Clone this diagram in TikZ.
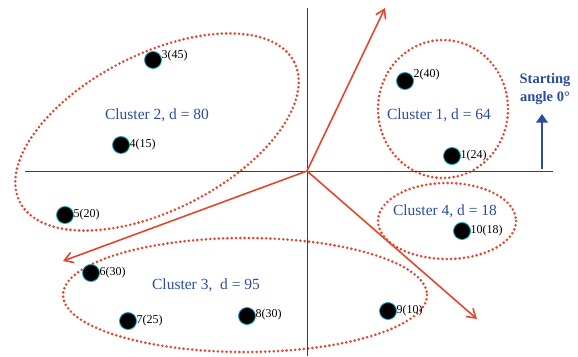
\documentclass[tikz,border=0pt]{standalone}
\usepackage{fontspec}
\setmainfont{Liberation Serif}
\usepackage{xcolor}
\usetikzlibrary{arrows.meta, positioning}

\definecolor{dotred}{RGB}{228,70,45}
\definecolor{clblue}{RGB}{45,75,160}
\definecolor{rimcyan}{RGB}{20,170,200}

\begin{document}
\begin{tikzpicture}[
    x=1pt, y=-1pt,
    pt/.style={circle, fill=black, draw=rimcyan, line width=0.8pt, minimum size=17pt, inner sep=0pt},
    lbl/.style={inner sep=1pt, font=\fontsize{12}{14}\selectfont},
    ctext/.style={text=clblue, font=\fontsize{15.5}{18}\selectfont},
    cluster/.style={draw=dotred, line width=2.9pt, line cap=round, dash pattern=on 0pt off 4.3pt},
    axis/.style={draw=black!75, line width=0.8pt},
    ray/.style={draw=dotred, line width=1.6pt, -{Straight Barb[length=3mm, width=3.8mm]}}
]
    \useasboundingbox (0,0) rectangle (578,356);

    % Clusters
    \draw[cluster] (443,109) ellipse [x radius=65, y radius=69];
    \draw[cluster] (157,132) ellipse [x radius=154, y radius=78, rotate=27];
    \draw[cluster] (245,295) ellipse [x radius=182, y radius=57];
    \draw[cluster] (447,221) ellipse [x radius=69, y radius=38];

    % Axes
    \coordinate (O) at (307,171);
    \coordinate (xl) at (25,171);
    \coordinate (xr) at (553,171);
    \coordinate (yt) at (307,8);
    \coordinate (yb) at (307,356);
    \draw[axis] (xl) -- (xr);
    \draw[axis] (yt) -- (yb);

    % Rays from the origin
    \coordinate (r1) at (385,8);
    \coordinate (r2) at (63,261);
    \coordinate (r3) at (477,319);
    \draw[ray] (O) -- (r1);
    \draw[ray] (O) -- (r2);
    \draw[ray] (O) -- (r3);

    % Starting angle
    \coordinate (s0) at (542,169);
    \coordinate (s1) at (542,114);
    \draw[draw=clblue, line width=2.4pt, -{Triangle[length=3mm, width=4mm]}] (s0) -- (s1);
    \node[text=clblue, font=\fontsize{14.5}{17.5}\selectfont\bfseries, align=center] (start) at (545,89) {Starting\\angle 0°};

    % Points
    \node[pt] (p1) at (452,156) {};
    \node[pt] (p2) at (405,81) {};
    \node[pt] (p3) at (153,60) {};
    \node[pt] (p4) at (121,145) {};
    \node[pt] (p5) at (65,215) {};
    \node[pt] (p6) at (91,273) {};
    \node[pt] (p7) at (128,321) {};
    \node[pt] (p8) at (247,316) {};
    \node[pt] (p9) at (388,311) {};
    \node[pt] (p10) at (462,231) {};

    \node[lbl, right=-1.5pt of p1] (l1) {1(24)};
    \node[lbl, right=-1.5pt of p2, yshift=6pt] (l2) {2(40)};
    \node[lbl, right=-1.5pt of p3, yshift=4pt] (l3) {3(45)};
    \node[lbl, right=-1.5pt of p4] (l4) {4(15)};
    \node[lbl, right=-1.5pt of p5] (l5) {5(20)};
    \node[lbl, right=-1.5pt of p6] (l6) {6(30)};
    \node[lbl, right=-1.5pt of p7] (l7) {7(25)};
    \node[lbl, right=-1.5pt of p8, yshift=1pt] (l8) {8(30)};
    \node[lbl, right=-1.5pt of p9] (l9) {9(10)};
    \node[lbl, right=-1.5pt of p10] (l10) {10(18)};

    % Cluster names
    \node[ctext] (c1) at (439,115) {Cluster 1, d = 64};
    \node[ctext] (c2) at (157,115) {Cluster 2, d = 80};
    \node[ctext] (c3) at (206,285) {Cluster 3,\ \ d = 95};
    \node[ctext] (c4) at (445,211) {Cluster 4, d = 18};
\end{tikzpicture}
\end{document}
